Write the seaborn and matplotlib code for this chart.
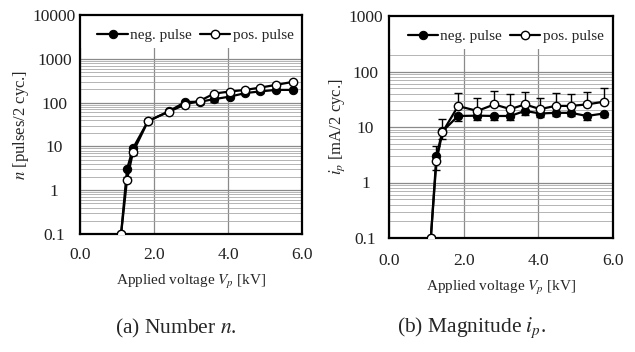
import matplotlib
matplotlib.use("Agg")
import matplotlib.pyplot as plt
import matplotlib.ticker as mticker
from matplotlib.patches import Rectangle
import numpy as np
import pandas as pd
import seaborn as sns

# ---- data ----
volt_n = [1.11, 1.27, 1.43, 1.84, 2.40, 2.84, 3.25, 3.63, 4.05, 4.47, 4.87, 5.30, 5.75]
neg_n = [0.1, 3.0, 9.0, 38, 63, 103, 105, 120, 137, 165, 180, 195, 195]
pos_n = [0.1, 1.7, 7.3, 38, 62, 90, 111, 161, 179, 195, 220, 254, 297]
neg_n_err = [0, 1.0, 2.5, 3, 5, 8, 14, 18, 12, 10, 10, 10, 10]

volt_i = [1.12, 1.27, 1.43, 1.85, 2.37, 2.82, 3.25, 3.64, 4.05, 4.46, 4.87, 5.30, 5.75]
neg_i = [0.1, 3.0, 8.3, 15.8, 16.0, 15.8, 15.8, 19.5, 17.5, 18.0, 18.0, 15.8, 17.5]
pos_i = [0.1, 2.4, 8.0, 23.8, 19.5, 25.5, 21.0, 25.5, 21.0, 24.0, 24.0, 25.5, 28.5]
neg_i_err = [0, 1.3, 2.3, 3.1, 2.5, 2.5, 2.5, 3.0, 2.5, 2.5, 2.5, 2.5, 2.5]
pos_i_err = [0, 2.1, 6.0, 17.7, 14.5, 19.5, 17.7, 17.2, 13.0, 17.0, 16.0, 17.5, 21.5]

series_labels = ["neg. pulse", "pos. pulse"]
x_ticks = [0.0, 2.0, 4.0, 6.0]
x_ticklabels = ["0.0", "2.0", "4.0", "6.0"]
captions = ["(a) Number $n$.", "(b) Magnitude $i_p$."]

sns.set_style("white")
plt.rcParams["font.family"] = ["Liberation Serif", "DejaVu Serif"]
plt.rcParams["mathtext.fontset"] = "stix"

fig = plt.figure(figsize=(6.35, 3.52), dpi=100)
W, H = 635, 352
ax1 = fig.add_axes([80 / W, (H - 234) / H, 222 / W, 219 / H])
ax2 = fig.add_axes([389 / W, (H - 238) / H, 224 / W, 222 / H])


def draw(ax, x, neg, pos, neg_err_low, pos_err_up, ylim, yticks, ylabel, leg_h,
         ypad, xpad, ylpad):
    df = pd.DataFrame({
        "V": list(x) * 2,
        "val": list(neg) + list(pos),
        "s": [series_labels[0]] * len(x) + [series_labels[1]] * len(x),
    })
    ax.errorbar(x, neg, yerr=[neg_err_low, [0] * len(x)], fmt="none",
                ecolor="black", elinewidth=1.0, capsize=3, capthick=1.0, zorder=2)
    if pos_err_up is not None:
        ax.errorbar(x, pos, yerr=[[0] * len(x), pos_err_up], fmt="none",
                    ecolor="black", elinewidth=1.0, capsize=3, capthick=1.0, zorder=2)
    sns.lineplot(data=df[df.s == series_labels[0]], x="V", y="val", ax=ax,
                 color="black", lw=1.6, marker="o", markersize=6,
                 markerfacecolor="black", markeredgecolor="black",
                 label=series_labels[0], zorder=3, legend=False)
    sns.lineplot(data=df[df.s == series_labels[1]], x="V", y="val", ax=ax,
                 color="black", lw=1.6, marker="o", markersize=6,
                 markerfacecolor="white", markeredgecolor="black",
                 markeredgewidth=1.0, label=series_labels[1], zorder=4, legend=False)
    ax.set_yscale("log")
    ax.set_xlim(0, 6)
    ax.set_ylim(*ylim)
    ax.set_xticks(x_ticks)
    ax.set_xticklabels(x_ticklabels)
    ax.set_yticks(yticks)
    ax.yaxis.set_major_formatter(mticker.FuncFormatter(lambda v, p: ("%g" % v)))
    ax.yaxis.set_minor_locator(mticker.LogLocator(base=10, subs=np.arange(2, 10)))
    ax.yaxis.set_minor_formatter(mticker.NullFormatter())
    ax.grid(True, which="major", axis="both", color="#8a8a8a", lw=0.9)
    ax.grid(True, which="minor", axis="y", color="#a8a8a8", lw=0.6)
    ax.set_axisbelow(True)
    ax.tick_params(which="both", length=0, labelsize=12.5, colors="#222222")
    ax.tick_params(axis="y", pad=ypad)
    ax.tick_params(axis="x", pad=xpad)
    for lab in ax.get_yticklabels():
        lab.set_horizontalalignment("center")
    for sp in ax.spines.values():
        sp.set_color("black")
        sp.set_linewidth(1.6)
        sp.set_visible(True)
    ax.set_xlabel("Applied voltage $V_p$ [kV]", fontsize=11, labelpad=7)
    ax.set_ylabel(ylabel, fontsize=12, labelpad=ylpad)
    # white legend strip across the top
    ax.add_patch(Rectangle((0, 1 - leg_h), 1, leg_h, transform=ax.transAxes,
                           facecolor="white", edgecolor="none", zorder=1.5))
    handles = [ax.lines[-2], ax.lines[-1]]
    ax.legend(handles, series_labels, loc="upper center", bbox_to_anchor=(0.52, 1.0),
              ncol=2, frameon=False, fontsize=11, handlelength=2.0,
              handletextpad=0.15, columnspacing=0.5, borderaxespad=0.5)


draw(ax1, volt_n, neg_n, pos_n, neg_n_err, None, (0.1, 10000),
     [0.1, 1, 10, 100, 1000, 10000], "$n$ [pulses/2 cyc.]", 33 / 219,
     18.5, 9.5, 1.5)
draw(ax2, volt_i, neg_i, pos_i, neg_i_err, pos_i_err, (0.1, 1000),
     [0.1, 1, 10, 100, 1000], "$i_p$ [mA/2 cyc.]", 33 / 222,
     17, 11, 1.0)

fig.text(176 / W, 1 - 328 / H, captions[0], ha="center", va="center", fontsize=15.5)
fig.text(472 / W, 1 - 328 / H, captions[1], ha="center", va="center", fontsize=15.5)

fig.savefig("out.png", dpi=100, facecolor="white")
